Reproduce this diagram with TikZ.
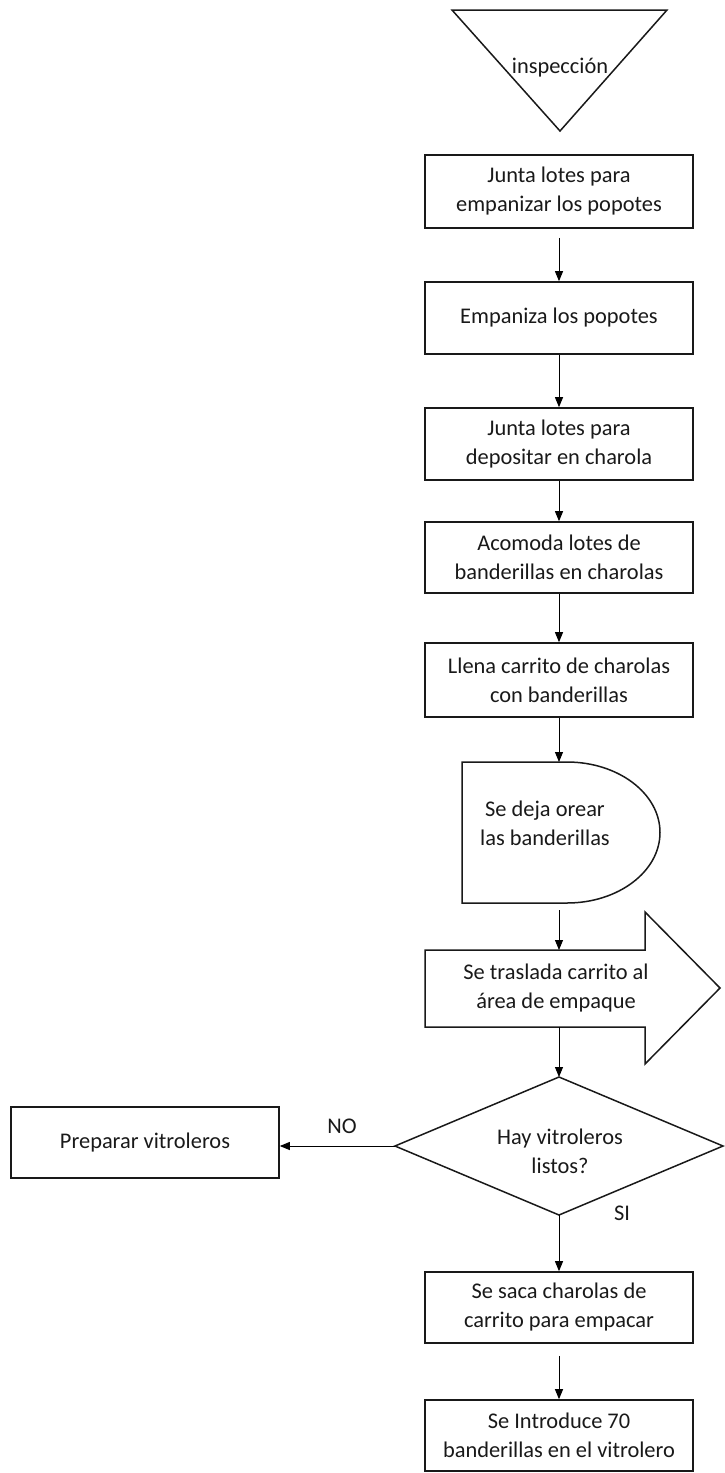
\documentclass[tikz,border=0pt]{standalone}
\usepackage{fontspec}
\setmainfont{Carlito}
\usetikzlibrary{arrows.meta}
\begin{document}
\begin{tikzpicture}[x=1pt,y=1pt,
  txt/.style={text=black!90,font=\fontsize{22.4}{29}\selectfont,align=center,inner sep=0pt},
  procbox/.style={txt,draw=black!90,line width=1.6pt,rectangle,minimum width=268pt},
  shp/.style={draw=black!90,line width=1.5pt,line join=miter},
  conn/.style={draw=black,line width=0.9pt,-{Triangle[length=10pt,width=8pt]}}
]
\useasboundingbox (0,0) rectangle (724,-1473);
% inspection triangle
\draw[shp] (452,-10) -- (667,-10) -- (560,-131) -- cycle;
\node[txt] (insp) at (560,-68) {inspección};
% process boxes
\node[procbox,minimum height=73pt] (b1) at (559,-191.5) {Junta lotes para\\empanizar los popotes};
\node[procbox,minimum height=72pt] (b2) at (559,-318) {Empaniza los popotes};
\node[procbox,minimum height=72pt] (b3) at (559,-444) {Junta lotes para\\depositar en charola};
\node[procbox,minimum height=71pt] (b4) at (559,-557.5) {Acomoda lotes de\\banderillas en charolas};
\node[procbox,minimum height=74pt] (b5) at (559,-680) {Llena carrito de charolas\\con banderillas};
% delay shape
\draw[shp] (462,-762) -- (567,-762) arc[start angle=90,end angle=-90,x radius=93pt,y radius=70.5pt] -- (462,-903) -- cycle;
\node[txt] (dly) at (545,-823) {Se deja orear\\las banderillas};
\coordinate (dlyN) at (559,-762);
\coordinate (dlyS) at (559,-903);
% transport block arrow
\draw[shp] (425,-950) -- (645,-950) -- (645,-912) -- (720,-988) -- (645,-1064) -- (645,-1027) -- (425,-1027) -- cycle;
\node[txt] (tr) at (556,-988) {Se traslada carrito al\\área de empaque};
\coordinate (trN) at (559,-950);
\coordinate (trS) at (559,-1027);
% decision diamond
\draw[shp] (559,-1077) -- (723,-1146) -- (559,-1215) -- (395,-1146) -- cycle;
\node[txt] (dec) at (560,-1151) {Hay vitroleros\\listos?};
\coordinate (decN) at (559,-1077);
\coordinate (decS) at (559,-1215);
\coordinate (decW) at (395,-1146);
% left box
\node[procbox,minimum height=71pt] (pv) at (145,-1142.5) {Preparar vitroleros};
% lower boxes
\node[procbox,minimum height=71pt] (b6) at (559,-1307.5) {Se saca charolas de\\carrito para empacar};
\node[procbox,minimum height=71pt] (b7) at (559,-1435.5) {Se Introduce 70\\banderillas en el vitrolero};
% labels
\node[txt] (no) at (342,-1126) {NO};
\node[txt] (si) at (622,-1213) {SI};
% connectors
\draw[conn] ([yshift=-9pt]b1.south) -- (b2.north);
\draw[conn] (b2.south) -- (b3.north);
\draw[conn] (b3.south) -- (b4.north);
\draw[conn] (b4.south) -- (b5.north);
\draw[conn] (b5.south) -- (dlyN);
\draw[conn] ([yshift=-7pt]dlyS) -- (trN);
\draw[conn] (trS) -- (decN);
\draw[conn] (decS) -- (b6.north);
\draw[conn] ([yshift=-12pt]b6.south) -- (b7.north);
\draw[conn] (decW) -- (pv.east |- decW);
\end{tikzpicture}
\end{document}
